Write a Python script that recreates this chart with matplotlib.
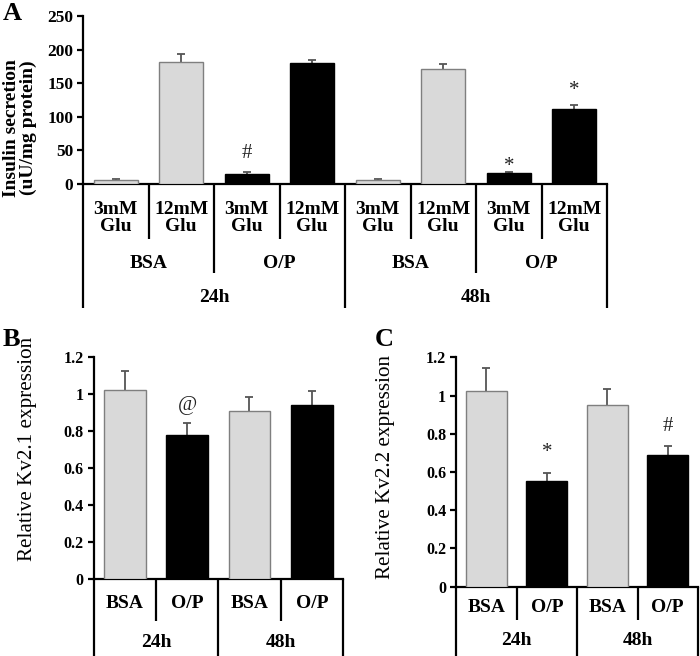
import numpy as np
import matplotlib
matplotlib.use("Agg")
import matplotlib.pyplot as plt

plt.rcParams['font.family'] = ['Liberation Serif', 'DejaVu Serif']

W, H = 700, 656
light = '#d9d9d9'
dark = '#000000'

# panel A data
a_glu = ['3mM\nGlu', '12mM\nGlu'] * 4
a_treat = ['BSA', 'O/P', 'BSA', 'O/P']
a_time = ['24h', '48h']
a_vals = [6, 182, 15, 180, 6, 171, 16, 111]
a_err = [1, 11, 2.5, 5, 0.8, 8, 1.5, 6]
a_fill = [light, light, dark, dark, light, light, dark, dark]
a_marks = ['', '', '#', '', '', '', '*', '*']
a_mark_y = [0, 0, 46, 0, 0, 0, 26, 139]

# panel B / C data
bc_treat = ['BSA', 'O/P', 'BSA', 'O/P']
bc_time = ['24h', '48h']
bc_fill = [light, dark, light, dark]
b_vals = [1.023, 0.782, 0.908, 0.944]
b_err = [0.105, 0.061, 0.077, 0.074]
b_marks = ['', '@', '', '']
b_mark_y = [0, 0.94, 0, 0]
c_vals = [1.026, 0.551, 0.951, 0.688]
c_err = [0.118, 0.044, 0.082, 0.047]
c_marks = ['', '*', '', '#']
c_mark_y = [0, 0.70, 0, 0.84]

fig = plt.figure(figsize=(W / 100, H / 100), dpi=100)


def add_ax(l, t, r, b):
    return fig.add_axes([l / W, 1 - b / H, (r - l) / W, (b - t) / H])


def bars(ax, vals, err, fill, ylim, ticks, fs_tick):
    x = np.arange(len(vals))
    edges = ['#7f7f7f' if c == light else 'black' for c in fill]
    ax.bar(x, vals, width=0.67, color=fill, edgecolor=edges, linewidth=1.0, zorder=3)
    ax.errorbar(x, vals, yerr=err, fmt='none', ecolor='#555555', elinewidth=1.3,
                capsize=3, capthick=1.3, zorder=2)
    ax.set_xlim(-0.5, len(vals) - 0.5)
    ax.set_ylim(*ylim)
    ax.set_yticks(ticks)
    ax.set_yticklabels(['%g' % t for t in ticks], fontsize=fs_tick, fontweight='bold')
    ax.set_xticks([])
    for s in ['top', 'right']:
        ax.spines[s].set_visible(False)
    for s in ['left', 'bottom']:
        ax.spines[s].set_linewidth(1.6)
    ax.tick_params(axis='y', length=4, width=1.6, pad=3)


def levels(ax, rows, fs):
    # rows: (labels, row bottom px, text centre px) measured down from the x axis
    hpx = ax.bbox.height
    n = len(rows[0][0])
    top = 0
    for labels, bottom, tpos in rows:
        g = n // len(labels)
        for k in range(len(labels) + 1):
            xb = -0.5 + k * g
            ax.plot([xb, xb], [-top / hpx, -bottom / hpx], color='black', lw=1.6,
                    transform=ax.get_xaxis_transform(), clip_on=False, solid_capstyle='butt')
        for k, lab in enumerate(labels):
            ax.text(-0.5 + g * (k + 0.5), -tpos / hpx, lab, ha='center', va='center',
                    fontsize=fs, fontweight='bold', linespacing=1.05,
                    transform=ax.get_xaxis_transform())
        top = bottom


def marks(ax, labels, ys, fs):
    for i, (m, y) in enumerate(zip(labels, ys)):
        if m:
            ax.text(i, y, m, ha='center', va='center', fontsize=fs, color='#222222')


# panel A
axA = add_ax(83, 16, 607, 184)
bars(axA, a_vals, a_err, a_fill, (0, 250), [0, 50, 100, 150, 200, 250], 12.5)
levels(axA, [(a_glu, 55, 34), (a_treat, 89, 79), (a_time, 124, 113)], 14)
marks(axA, a_marks, a_mark_y, 15)
fig.text(20 / W, 1 - 128 / H, 'Insulin secretion\n(uU/mg protein)', rotation=90,
         ha='center', va='center', fontsize=14, fontweight='bold', linespacing=0.92)
fig.text(3 / W, 1 - 13 / H, 'A', fontsize=19, fontweight='bold', va='center')

# panel B
axB = add_ax(93.5, 357.3, 343, 579.3)
bars(axB, b_vals, b_err, bc_fill, (0, 1.2), [0, 0.2, 0.4, 0.6, 0.8, 1, 1.2], 11.5)
levels(axB, [(bc_treat, 42, 24), (bc_time, 77, 63)], 14)
marks(axB, b_marks, b_mark_y, 15)
fig.text(28 / W, 1 - 449 / H, 'Relative Kv2.1 expression', rotation=90,
         ha='center', va='center', fontsize=15.2)
fig.text(3 / W, 1 - 339 / H, 'B', fontsize=19, fontweight='bold', va='center')

# panel C
axC = add_ax(456, 357.3, 698, 586.7)
bars(axC, c_vals, c_err, bc_fill, (0, 1.2), [0, 0.2, 0.4, 0.6, 0.8, 1, 1.2], 11.5)
levels(axC, [(bc_treat, 33, 21), (bc_time, 69, 54)], 14)
marks(axC, c_marks, c_mark_y, 15)
fig.text(385 / W, 1 - 467 / H, 'Relative Kv2.2 expression', rotation=90,
         ha='center', va='center', fontsize=15.2)
fig.text(375 / W, 1 - 340 / H, 'C', fontsize=19, fontweight='bold', va='center')

fig.savefig('out.png', dpi=100, facecolor='white')
